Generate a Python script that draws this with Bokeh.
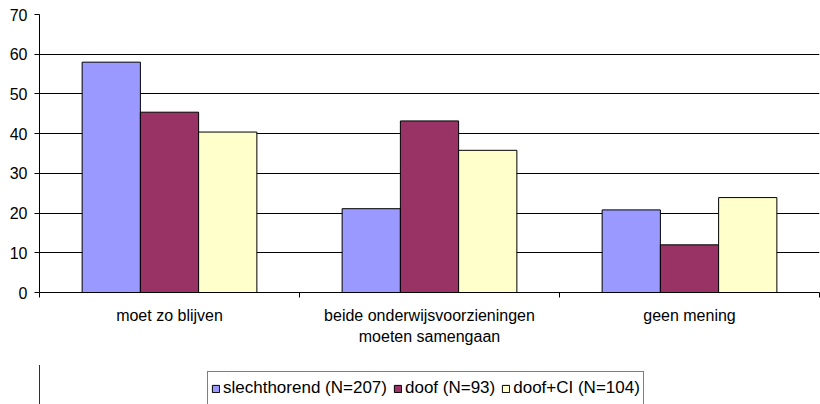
from bokeh.plotting import figure
from bokeh.models import Range1d, FixedTicker, LinearAxis, Legend, LegendItem, ColumnDataSource
from bokeh.transform import dodge
from bokeh.layouts import column
from bokeh.embed import file_html
from bokeh.resources import INLINE

categories = ["moet zo blijven", "beide onderwijsvoorzieningen\nmoeten samengaan", "geen mening"]
series_names = ["slechthorend (N=207)", "doof (N=93)", "doof+CI (N=104)"]
slechthorend = [58.0, 21.1, 20.8]
doof = [45.4, 43.2, 12.0]
doof_ci = [40.4, 35.8, 23.9]
y_ticks = [0, 10, 20, 30, 40, 50, 60, 70]
colors = ["#9999FF", "#993366", "#FFFFCC"]

FONT = "Liberation Sans"
n = len(categories)
src = ColumnDataSource(dict(
    x=[i + 0.5 for i in range(n)],
    s1=slechthorend, s2=doof, s3=doof_ci,
))

p = figure(width=820, height=365,
           x_range=Range1d(0, n), y_range=Range1d(y_ticks[0], y_ticks[-1]),
           output_backend="svg", toolbar_location=None,
           min_border_left=39, min_border_right=1, min_border_top=14, min_border_bottom=73,
           x_axis_type=None)
p.outline_line_color = None
p.background_fill_color = "white"
p.border_fill_color = "white"

bar_w = 0.224
offsets = [-bar_w, 0.0, bar_w]
for col, color, off in zip(["s1", "s2", "s3"], colors, offsets):
    p.vbar(x=dodge("x", off, range=p.x_range), top=col, width=bar_w, source=src,
           fill_color=color, line_color="black", line_width=1)

# y axis
yax = p.yaxis[0]
yax.ticker = FixedTicker(ticks=y_ticks)
yax.axis_line_color = "black"
yax.major_tick_line_color = "black"
yax.major_tick_out = 5
yax.major_tick_in = 0
yax.minor_tick_line_color = None
yax.major_label_text_font = FONT
yax.major_label_text_font_size = "16px"
yax.major_label_text_color = "black"
yax.major_label_standoff = 7

p.ygrid.ticker = FixedTicker(ticks=y_ticks)
p.ygrid.grid_line_color = "black"
p.xgrid.visible = False

# x axis: labels centred in categories, ticks at category boundaries
xax = LinearAxis(ticker=FixedTicker(ticks=[i + 0.5 for i in range(n)],
                                    minor_ticks=list(range(n + 1))))
xax.major_label_overrides = {i + 0.5: c for i, c in enumerate(categories)}
xax.major_tick_line_color = None
xax.major_tick_out = 0
xax.major_tick_in = 0
xax.minor_tick_line_color = "black"
xax.minor_tick_out = 5
xax.minor_tick_in = 0
xax.axis_line_color = "black"
xax.major_label_text_font = FONT
xax.major_label_text_font_size = "16px"
xax.major_label_text_color = "black"
xax.major_label_standoff = 9
xax.major_label_text_line_height = 1.25
p.add_layout(xax, "below")

# legend strip (own small figure so the legend is not clipped by the chart frame);
# its bars use the same data but lie outside this strip's x range, so only the legend shows
lf = figure(width=820, height=39, x_range=Range1d(n + 1, n + 2), y_range=Range1d(0, 1),
            output_backend="svg", toolbar_location=None,
            x_axis_location=None, y_axis_location=None,
            min_border=0, min_border_left=0, min_border_right=0,
            min_border_top=0, min_border_bottom=0)
lf.outline_line_color = None
lf.xgrid.visible = False
lf.ygrid.visible = False
lf.background_fill_color = "white"
lf.border_fill_color = "white"
leg_renderers = [lf.vbar(x="x", top=col, width=bar_w, source=src,
                         fill_color=c, line_color="black", line_width=1)
                 for col, c in zip(["s1", "s2", "s3"], colors)]

legend = Legend(items=[LegendItem(label=nm, renderers=[r]) for nm, r in zip(series_names, leg_renderers)],
                orientation="horizontal", location=(168, -1))
legend.label_text_font = FONT
legend.label_text_font_size = "17px"
legend.label_text_color = "black"
legend.border_line_color = "black"
legend.border_line_width = 1
legend.background_fill_color = "white"
legend.background_fill_alpha = 1
legend.padding = 3
legend.margin = 0
legend.glyph_width = 9
legend.glyph_height = 9
legend.label_height = 26
legend.label_standoff = 3
legend.spacing = 6
lf.add_layout(legend, "center")

open("out.html", "w").write(file_html(column(p, lf, spacing=0), INLINE))
